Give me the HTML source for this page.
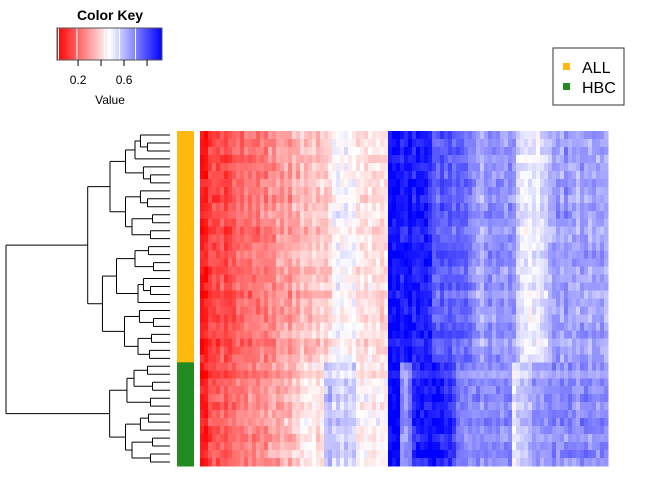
<!DOCTYPE html>
<html><head><meta charset="utf-8">
<style>
body{margin:0;background:#fff;font-family:"Liberation Sans",sans-serif;}
svg{display:block}
</style></head>
<body>
<svg id="chart" width="672" height="480">
  <g>
    <text x="110" y="20" font-size="14" font-weight="bold" text-anchor="middle">Color Key</text>
    <g id="keybar"></g>
    <rect x="57" y="28" width="105" height="32" fill="none" stroke="#555" stroke-width="1"/>
    <g id="keyticks"></g>
    <text x="110" y="104" font-size="12" text-anchor="middle">Value</text>
  </g>
  <g>
    <rect x="553" y="48" width="71" height="57" fill="#fff" stroke="#333"/>
    <rect x="563" y="63" width="7" height="7" fill="#FFB90F"/>
    <text x="582" y="73" font-size="16">ALL</text>
    <rect x="563" y="83" width="7" height="7" fill="#228B22"/>
    <text x="582" y="93" font-size="16">HBC</text>
  </g>
  <g id="dendro" stroke="#000" stroke-width="1" fill="none"></g>
  <g id="side"></g>
  <g id="cells" shape-rendering="crispEdges"></g>
</svg>
<script>
const colAll=[0.02,0.03,0.10,0.12,0.11,0.14,0.10,0.13,0.15,0.18,0.16,0.19,0.17,0.20,0.18,0.22,0.19,0.24,0.21,0.27,0.25,0.28,0.23,0.30,0.27,0.33,0.29,0.31,0.34,0.32,0.35,0.33,0.36,0.42,0.44,0.41,0.43,0.40,0.42,0.37,0.38,0.36,0.39,0.37,0.38,0.36,0.37,0.84,0.82,0.83,0.80,0.81,0.84,0.79,0.82,0.80,0.81,0.78,0.70,0.68,0.72,0.69,0.71,0.67,0.70,0.68,0.69,0.65,0.62,0.58,0.55,0.60,0.62,0.59,0.61,0.60,0.58,0.62,0.60,0.50,0.47,0.46,0.45,0.47,0.44,0.48,0.50,0.55,0.58,0.60,0.56,0.62,0.57,0.58,0.55,0.60,0.58,0.56,0.59,0.57,0.58,0.56];
const colHbc=[0.04,0.05,0.12,0.15,0.14,0.17,0.13,0.16,0.18,0.20,0.22,0.19,0.24,0.21,0.23,0.25,0.22,0.27,0.29,0.26,0.30,0.31,0.28,0.33,0.34,0.38,0.40,0.39,0.41,0.38,0.40,0.52,0.55,0.50,0.53,0.48,0.51,0.49,0.52,0.42,0.40,0.43,0.41,0.38,0.42,0.40,0.41,0.86,0.84,0.85,0.62,0.60,0.66,0.78,0.80,0.82,0.81,0.83,0.84,0.82,0.80,0.78,0.79,0.74,0.66,0.64,0.65,0.63,0.62,0.63,0.61,0.64,0.62,0.60,0.63,0.61,0.62,0.64,0.45,0.50,0.52,0.51,0.55,0.60,0.62,0.58,0.60,0.62,0.64,0.60,0.63,0.61,0.65,0.62,0.60,0.63,0.64,0.61,0.62,0.60,0.63,0.62];
const rowGroups=["ALL","ALL","ALL","ALL","ALL","ALL","ALL","ALL","ALL","ALL","ALL","ALL","ALL","ALL","ALL","ALL","ALL","ALL","ALL","ALL","ALL","ALL","ALL","ALL","ALL","ALL","ALL","ALL","ALL","HBC","HBC","HBC","HBC","HBC","HBC","HBC","HBC","HBC","HBC","HBC","HBC","HBC"];
const rowShift=[0.01,0.00,0.02,-0.01,0.01,0.00,0.02,0.01,-0.01,0.02,0.03,0.01,-0.02,0.00,0.01,0.03,0.02,-0.01,0.00,0.02,-0.02,0.01,0.00,-0.01,0.02,0.03,-0.02,0.00,0.02,0.00,-0.01,0.01,0.00,0.02,-0.01,0.01,0.03,0.00,-0.02,0.01,0.02,-0.01];
const jitter=[0.03,-0.05,0.01,0.06,-0.02,0.00,0.04,-0.06,0.02,-0.03,0.05,-0.01,0.00,0.07,-0.04,0.02,-0.02,0.03,-0.07,0.01,0.05,-0.03,0.00,0.04,-0.05,0.02,-0.01,0.06,-0.04,0.01,0.03,-0.02,0.00,-0.06,0.04,0.02,-0.03];
const keyTicks=[0.2,0.4,0.6,0.8];
const keyLabels=["0.2","","0.6",""];
const groupColors={ALL:"#FFB90F",HBC:"#228B22"};

const NS="http://www.w3.org/2000/svg";
const X0=200,X1=608,Y0=131,Y1=466;
const nc=colAll.length,nr=rowGroups.length;
const cw=(X1-X0)/nc,rh=(Y1-Y0)/nr;
const vmin=0.017,vmax=0.93,vmid=(vmin+vmax)/2;
function color(v){
  v=Math.max(vmin,Math.min(vmax,v));
  if(v<vmid){const t=(v-vmin)/(vmid-vmin);const g=Math.round(255*t);return `rgb(255,${g},${g})`;}
  const t=(v-vmid)/(vmax-vmid);const g=Math.round(255*(1-t));return `rgb(${g},${g},255)`;
}
function toScale(v){return 0.017+v*1.06;}
function xCol(c){return X0+c*cw;}
function yRow(r){return Y0+r*rh;}
function mk(tag,attrs,parent){const e=document.createElementNS(NS,tag);for(const k in attrs)e.setAttribute(k,attrs[k]);parent.appendChild(e);return e;}

const cells=document.getElementById('cells');
for(let r=0;r<nr;r++){
  const prof=rowGroups[r]==="ALL"?colAll:colHbc;
  for(let c=0;c<nc;c++){
    const j=jitter[(r*r*3+c*7+r*c+r*5)%jitter.length]*0.7;
    const v=toScale(prof[c]+rowShift[r]+j);
    const e=mk('rect',{x:xCol(c),y:yRow(r),width:cw+0.5,height:rh+0.5,fill:color(v)},cells);
    
    
  }
}
const side=document.getElementById('side');
for(let r=0;r<nr;r++){
  const e=mk('rect',{x:177,y:yRow(r),width:17,height:rh+0.5,fill:groupColors[rowGroups[r]]},side);
  
  
}
// color key
const kb=document.getElementById('keybar');
const kx0=57,kx1=162;
function xKey(v){return kx0+(v-vmin)/(vmax-vmin)*(kx1-kx0);}
for(let i=0;i<105;i++){
  const v=vmin+(i+0.5)/105*(vmax-vmin);
  mk('rect',{x:kx0+i,y:28,width:1.2,height:32,fill:color(v)},kb);
}
[0.03,0.19,0.43,0.56,0.7].forEach(v=>mk('line',{x1:xKey(v),x2:xKey(v),y1:28,y2:60,stroke:'#fff','stroke-width':1},kb));
const kt=document.getElementById('keyticks');
keyTicks.forEach((v,i)=>{
  const x=xKey(v);
  const l=mk('line',{x1:x,x2:x,y1:60,y2:66,stroke:'#000'},kt);
  
  
  if(keyLabels[i]){const t=mk('text',{x:x,y:84,'font-size':12,'text-anchor':'middle'},kt);t.textContent=keyLabels[i];
    
    }
});
// dendrogram
const dg=document.getElementById('dendro');
function line(x1,y1,x2,y2){mk('line',{x1,y1,x2,y2},dg);}
function node(lo,hi){
  const size=hi-lo+1;
  if(size===1)return {x:170,y:yRow(lo)+rh/2};
  const mid=lo+Math.floor(size/2)-1+((lo+hi)%3===0?1:0);
  const m=Math.min(Math.max(mid,lo),hi-1);
  const a=node(lo,m),b=node(m+1,hi);
  const x=166-15.5*Math.log2(size)+((lo*5+hi)%7)-3;
  line(x,a.y,a.x,a.y);line(x,b.y,b.x,b.y);line(x,a.y,x,b.y);
  return {x:x,y:(a.y+b.y)/2};
}
const nAll=rowGroups.filter(g=>g==="ALL").length;
const A=node(0,nAll-1),B=node(nAll,nr-1);
line(6,A.y,A.x,A.y);line(6,B.y,B.x,B.y);line(6,A.y,6,B.y);
</script>
</body></html>
